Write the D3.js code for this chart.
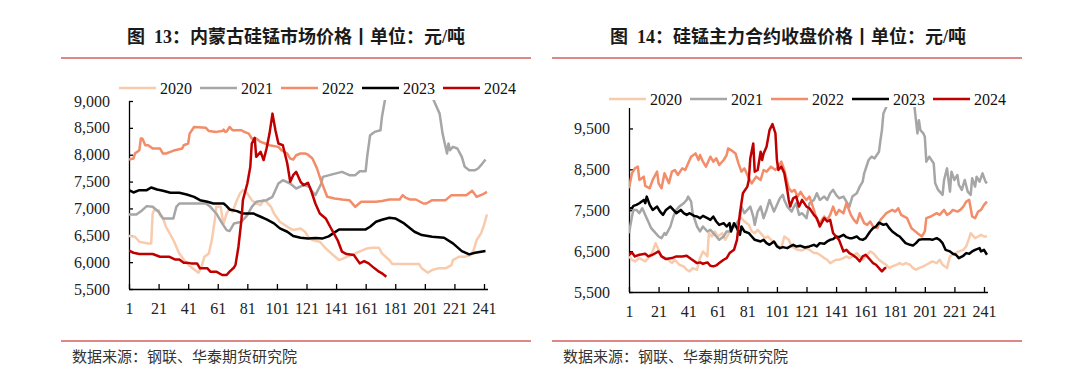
<!DOCTYPE html>
<html>
<head>
<meta charset="utf-8">
<script src="https://cdn.jsdelivr.net/npm/d3@7/dist/d3.min.js"></script>
<style>
  body { margin: 0; background: #fff; }
</style>
</head>
<body>
<svg id="vis" width="1080" height="380"></svg>
<script>

// series labels and colours
var years = ['2020', '2021', '2022', '2023', '2024'];
var colors = ['#F8CBAD', '#A6A6A6', '#F28C69', '#000000', '#C00000'];

// Fig 13: Inner Mongolia SiMn market price, [trading day, yuan/t]
var mkt2020 = [[1,6485],[5,6473],[8,6380],[14,6349],[16,6349],[17,6906],[18,6968],[21,6968],[22,6876],[24,6814],[26,6659],[31,6411],[35,6163],[40,5977],[44,5884],[48,5804],[50,5915],[52,6101],[55,6163],[57,6411],[59,6783],[60,7030],[63,7030],[64,6845],[65,6721],[67,6906],[69,6999],[71,6937],[74,7154],[76,7278],[78,7340],[81,7278],[84,7154],[87,7092],[90,7061],[92,7154],[94,7123],[97,7030],[99,6906],[103,6752],[108,6659],[112,6597],[117,6628],[120,6566],[122,6473],[125,6411],[130,6380],[134,6256],[139,6132],[143,6039],[146,6070],[151,6132],[154,6163],[159,6225],[162,6256],[165,6268],[170,6268],[172,6163],[177,6039],[179,5965],[186,5965],[197,5965],[199,5884],[203,5804],[206,5853],[210,5884],[215,5884],[219,5946],[220,6039],[224,6101],[228,6101],[232,6132],[234,6225],[236,6411],[239,6535],[241,6690],[243,6888]];
var mkt2021 = [[1,6888],[6,6888],[10,6968],[13,7043],[17,7030],[21,6937],[24,6814],[31,6814],[33,7030],[35,7092],[40,7092],[53,7092],[56,7030],[60,6906],[64,6721],[67,6597],[69,6578],[72,6721],[77,6752],[81,6876],[84,7030],[87,7123],[94,7154],[98,7216],[102,7464],[105,7526],[110,7464],[114,7371],[119,7433],[123,7402],[125,7309],[127,7247],[131,7464],[132,7588],[139,7638],[145,7681],[150,7619],[154,7619],[157,7693],[161,7693],[162,7960],[164,8363],[167,8425],[171,8455],[172,8703],[174,9013],[176,10000],[185,11500],[195,12000],[204,10500],[207,9013],[209,8889],[211,8765],[213,8393],[216,8022],[217,8208],[218,8084],[220,8146],[223,8115],[226,7960],[228,7774],[231,7712],[235,7712],[237,7743],[239,7805],[242,7910]];
var mkt2022 = [[1,7910],[4,7929],[5,8022],[8,8084],[9,8301],[10,8301],[12,8177],[14,8177],[17,8115],[22,8115],[24,8022],[26,8022],[29,8053],[32,8084],[37,8115],[38,8177],[41,8208],[42,8393],[45,8517],[53,8500],[55,8440],[60,8425],[64,8440],[65,8468],[66,8425],[67,8430],[69,8517],[71,8455],[77,8455],[79,8425],[82,8393],[84,8301],[87,8301],[90,8239],[93,8208],[96,8177],[102,8146],[104,8084],[108,8022],[110,7929],[112,7910],[114,7990],[117,8022],[120,8022],[122,8000],[125,7929],[128,7750],[131,7500],[135,7216],[140,7185],[145,7166],[150,7154],[154,7030],[158,7123],[168,7123],[172,7140],[177,7166],[184,7166],[186,7247],[188,7200],[191,7166],[195,7166],[200,7092],[202,7092],[206,7154],[215,7154],[219,7247],[229,7247],[233,7328],[236,7216],[240,7260],[243,7309]];
var mkt2023 = [[1,7340],[4,7297],[8,7340],[13,7340],[16,7390],[20,7353],[24,7328],[29,7291],[35,7291],[40,7260],[45,7216],[49,7154],[54,7123],[58,7092],[65,7092],[67,7043],[69,6981],[74,6950],[78,6906],[85,6906],[90,6845],[94,6795],[99,6721],[103,6628],[108,6566],[112,6485],[117,6454],[122,6442],[127,6450],[132,6442],[136,6480],[139,6535],[143,6609],[161,6609],[164,6659],[168,6752],[172,6790],[177,6826],[181,6814],[187,6721],[194,6566],[199,6504],[206,6473],[214,6454],[220,6350],[226,6206],[231,6144],[235,6175],[242,6206]];
var mkt2024 = [[1,6213],[4,6175],[8,6151],[17,6151],[22,6101],[28,6101],[32,6051],[35,6051],[38,5989],[40,5989],[43,5977],[47,5977],[49,5884],[54,5884],[56,5822],[60,5822],[64,5760],[67,5760],[69,5822],[72,5900],[73,5950],[75,6287],[77,6783],[78,7154],[81,7464],[83,7774],[84,8208],[86,8313],[87,7960],[90,8053],[92,7900],[94,8115],[96,8393],[98,8765],[100,8455],[102,8208],[105,8177],[108,7836],[110,7495],[112,7619],[114,7681],[117,7495],[119,7433],[122,7477],[124,7340],[127,7092],[130,6906],[134,6814],[137,6659],[142,6411],[145,6194],[148,6151],[153,6132],[157,5977],[160,6020],[163,5977],[167,5884],[170,5822],[172,5791],[175,5729]];

// Fig 14: SiMn main contract close, [trading day, yuan/t]
var fut2020 = [[1,6370],[3,6289],[5,6248],[8,6329],[12,6248],[15,6370],[17,6492],[19,6695],[21,6532],[23,6370],[26,6329],[30,6207],[32,6289],[35,6167],[38,6126],[40,6045],[42,6004],[44,6085],[47,6045],[49,6329],[51,6492],[54,6370],[55,6939],[57,6858],[59,6980],[61,6858],[64,6939],[66,6776],[68,6898],[70,7061],[73,7102],[75,7264],[77,7305],[79,7224],[82,7142],[84,6980],[86,6939],[88,7020],[91,6898],[93,6817],[95,6858],[97,6776],[100,6695],[102,6614],[104,6573],[106,6858],[109,6776],[111,6614],[113,6573],[115,6532],[118,6516],[121,6573],[123,6532],[126,6451],[128,6451],[130,6411],[133,6329],[135,6289],[137,6207],[139,6248],[141,6289],[143,6289],[146,6329],[148,6370],[150,6329],[152,6370],[155,6451],[157,6370],[159,6289],[161,6370],[164,6492],[166,6451],[168,6370],[170,6289],[173,6207],[175,6167],[177,6085],[179,6126],[182,6167],[184,6207],[186,6167],[188,6207],[191,6167],[193,6085],[195,6045],[197,6085],[200,6126],[202,6167],[204,6207],[206,6248],[209,6207],[211,6289],[213,6167],[216,6085],[218,6370],[220,6411],[222,6451],[224,6492],[227,6532],[229,6614],[231,6817],[232,6939],[235,6817],[237,6858],[239,6898],[241,6858],[243,6858]];
var fut2021 = [[1,6939],[3,7346],[4,7508],[6,7508],[8,7427],[10,7549],[12,7386],[14,7224],[16,7061],[19,6939],[21,6858],[23,6817],[25,6939],[26,6898],[29,7102],[31,7346],[33,7508],[35,7589],[38,7671],[40,7752],[41,7833],[43,7711],[44,7427],[47,7102],[49,6980],[51,7102],[54,6980],[56,7020],[58,6939],[60,6858],[62,6776],[65,6858],[67,6980],[69,6980],[72,7102],[74,7183],[76,7305],[77,7589],[79,7427],[81,7508],[83,7589],[85,7346],[86,7142],[88,7467],[90,7589],[92,7305],[94,7508],[96,7752],[99,7467],[101,7630],[103,7793],[105,7874],[106,7752],[108,7589],[111,7467],[112,7549],[114,7671],[116,7386],[118,7427],[121,7305],[123,7671],[126,7752],[128,7915],[130,7752],[133,7833],[135,7752],[137,7915],[139,7996],[141,7874],[143,7793],[146,7833],[148,7711],[150,7589],[152,7833],[155,7915],[157,8077],[159,8199],[160,8402],[163,8728],[165,8809],[167,8768],[170,8931],[171,9215],[172,9459],[173,9866],[175,10028],[178,10800],[185,12000],[190,11000],[194,10028],[196,9378],[197,9703],[198,9459],[200,9378],[201,9297],[202,8687],[204,8809],[207,8646],[208,8158],[210,7996],[213,7874],[214,8240],[216,8524],[218,7955],[219,8443],[221,8240],[223,8362],[224,8118],[226,7996],[228,8240],[230,7955],[232,7874],[233,8280],[235,8077],[236,8321],[238,8199],[240,8402],[242,8199],[243,8158]];
var fut2022 = [[1,8037],[3,8402],[5,8524],[7,8565],[8,8240],[11,8321],[12,8093],[15,8037],[17,8240],[20,8443],[21,8158],[23,8037],[25,8402],[28,8158],[30,8443],[32,8484],[34,8362],[37,8524],[39,8484],[41,8646],[43,8809],[46,8890],[48,8728],[49,8850],[51,8687],[53,8565],[56,8809],[58,8687],[60,8768],[62,8606],[65,8728],[67,8850],[68,9012],[70,8972],[73,8890],[75,8646],[77,8443],[79,8524],[82,8280],[84,8158],[87,8321],[90,8240],[92,8484],[94,8443],[97,8565],[100,8484],[102,8565],[104,8687],[106,8484],[109,8037],[111,7955],[113,7996],[115,7833],[117,7950],[119,7833],[121,7752],[123,7833],[126,7508],[128,7264],[130,7183],[133,7346],[135,7264],[137,7386],[139,7589],[141,7386],[143,7508],[146,7427],[148,7671],[151,7386],[153,7264],[155,7183],[157,7427],[160,7183],[162,7142],[164,7224],[166,7102],[169,7061],[171,7264],[173,7346],[175,7427],[179,7508],[181,7467],[183,7549],[185,7386],[189,7305],[192,7061],[196,6939],[199,6858],[201,6980],[202,7305],[205,7346],[207,7386],[209,7427],[211,7386],[214,7508],[216,7386],[218,7427],[220,7508],[223,7467],[225,7508],[227,7589],[229,7711],[231,7752],[233,7346],[235,7305],[237,7467],[239,7508],[241,7630],[243,7711]];
var fut2023 = [[1,7549],[3,7549],[4,7606],[6,7630],[8,7671],[11,7752],[12,7671],[13,7833],[15,7630],[17,7508],[20,7589],[22,7467],[24,7386],[26,7508],[29,7589],[31,7508],[33,7427],[36,7508],[38,7427],[40,7386],[42,7427],[45,7362],[47,7346],[49,7305],[51,7362],[54,7305],[56,7264],[58,7346],[60,7224],[62,7142],[65,7183],[67,7102],[69,7183],[70,6980],[72,7183],[74,7061],[76,6898],[77,7102],[79,6980],[82,6939],[84,6858],[86,6776],[90,6736],[92,6776],[94,6695],[96,6654],[99,6736],[101,6614],[103,6573],[105,6598],[108,6573],[110,6614],[112,6654],[114,6614],[117,6630],[120,6589],[123,6614],[126,6654],[128,6614],[130,6695],[133,6679],[135,6736],[137,6776],[139,6793],[141,6858],[143,6841],[146,6898],[148,6841],[150,6817],[152,6817],[155,6858],[157,6793],[159,6776],[161,6817],[164,6980],[166,7061],[168,7102],[170,7199],[173,7142],[175,7167],[177,7061],[179,6980],[182,6898],[184,6858],[186,6776],[188,6695],[191,6654],[193,6638],[195,6695],[197,6776],[200,6793],[202,6793],[204,6793],[206,6776],[209,6817],[211,6776],[213,6695],[215,6532],[218,6492],[220,6435],[222,6411],[224,6329],[227,6386],[229,6451],[231,6435],[233,6492],[235,6532],[238,6573],[239,6492],[241,6532],[243,6411]];
var fut2024 = [[1,6411],[3,6467],[5,6370],[8,6411],[12,6435],[14,6370],[17,6411],[21,6492],[23,6370],[26,6305],[30,6329],[33,6370],[37,6370],[40,6386],[43,6305],[47,6207],[49,6224],[51,6191],[54,6224],[56,6142],[58,6126],[60,6150],[62,6207],[65,6289],[67,6329],[69,6451],[72,6532],[74,6776],[76,7427],[78,7915],[81,8077],[82,8240],[83,8768],[85,9134],[86,8443],[88,8484],[90,8931],[91,8728],[92,8890],[94,9053],[96,9459],[98,9606],[100,9378],[101,8728],[102,8484],[104,8565],[106,8402],[108,7996],[109,7752],[110,7589],[112,7793],[114,7833],[116,7589],[118,7752],[121,7589],[123,7549],[126,7386],[128,7305],[130,7102],[133,7305],[135,7224],[137,7264],[139,6939],[141,6858],[143,6776],[146,6492],[148,6532],[150,6451],[152,6411],[155,6329],[157,6248],[159,6370],[161,6411],[164,6289],[166,6207],[168,6167],[170,6085],[172,6004],[174,6085],[175,6085]];

// axis tick values
var xTicks = d3.range(1, 242, 20);
var mktYTicks = d3.range(5500, 9001, 500);
var futYTicks = d3.range(5500, 9501, 1000);

var source = '数据来源：钢联、华泰期货研究院';

var panels = [
  { title: '图\u00a0\u00a013：内蒙古硅锰市场价格丨单位：元/吨', series: [mkt2020, mkt2021, mkt2022, mkt2023, mkt2024],
    yDomain: [5500, 9000], yTicks: mktYTicks,
    left: 61, right: 531, titleX: 296,
    xRange: [129, 484], xEnd: 488, yRange: [289, 101], legendX: 119, legendY: 88 },
  { title: '图\u00a0\u00a014：硅锰主力合约收盘价格丨单位：元/吨', series: [fut2020, fut2021, fut2022, fut2023, fut2024],
    yDomain: [5500, 10000], yTicks: futYTicks,
    left: 552, right: 1022, titleX: 788,
    xRange: [629, 984], xEnd: 988, yRange: [292, 108], legendX: 609, legendY: 99 }
];

var serif = "'Times New Roman','Liberation Serif','Noto Sans CJK SC',serif";
var svg = d3.select('#vis');

panels.forEach(function (p, pi) {
  var g = svg.append('g');

  // title + red rules
  g.append('text')
    .attr('x', p.titleX).attr('y', 43)
    .attr('text-anchor', 'middle')
    .style('font-family', serif)
    .style('font-weight', 'bold')
    .style('font-size', '18px')
    .style('fill', '#1a1a1a')
    .text(p.title);

  [58, 341].forEach(function (yy) {
    g.append('line')
      .attr('x1', p.left).attr('x2', p.right)
      .attr('y1', yy).attr('y2', yy)
      .style('stroke', '#D2615E')
      .style('stroke-width', 1.6);
  });

  g.append('text')
    .attr('x', p.left + 11).attr('y', 362)
    .style('font-family', "'Noto Sans CJK SC',sans-serif")
    .style('font-size', '15px')
    .style('fill', '#333')
    .text(source);

  // scales
  var x = d3.scaleLinear().domain([1, 241]).range(p.xRange);
  var y = d3.scaleLinear().domain(p.yDomain).range(p.yRange);

  // y axis, ticks pointing inward
  var yAxis = g.append('g')
    .attr('transform', 'translate(' + p.xRange[0] + ',0)')
    .call(d3.axisLeft(y).tickValues(p.yTicks).tickSizeInner(-4).tickSizeOuter(0)
      .tickPadding(19).tickFormat(d3.format(',')));
  yAxis.select('.domain').attr('d', 'M0.5,' + p.yRange[0] + 'V' + p.yRange[1]);

  // x axis
  var xAxis = g.append('g')
    .attr('transform', 'translate(0,' + p.yRange[0] + ')')
    .call(d3.axisBottom(x).tickValues(xTicks).tickSizeInner(-5).tickSizeOuter(0)
      .tickPadding(14).tickFormat(d3.format('d')));
  xAxis.select('.domain').attr('d', 'M' + p.xRange[0] + ',0.5H' + p.xEnd);

  [yAxis, xAxis].forEach(function (a) {
    a.selectAll('.domain, .tick line').style('stroke', '#000').style('stroke-width', 1.3);
    a.selectAll('text')
      .style('font-family', serif)
      .style('font-size', '16px')
      .style('fill', '#222');
  });

  // clip so the 2021 spike leaves the frame like in the source
  g.append('clipPath').attr('id', 'clip' + pi)
    .append('rect')
    .attr('x', p.xRange[0]).attr('y', p.yRange[1] - 1)
    .attr('width', p.xEnd - p.xRange[0] + 4)
    .attr('height', p.yRange[0] - p.yRange[1] + 1);

  var line = d3.line()
    .x(function (d) { return x(d[0]); })
    .y(function (d) { return y(d[1]); });

  g.append('g')
    .attr('clip-path', 'url(#clip' + pi + ')')
    .selectAll('path')
    .data(p.series)
    .enter().append('path')
    .attr('d', line)
    .style('fill', 'none')
    .style('stroke', function (d, i) { return colors[i]; })
    .style('stroke-width', 2.5)
    .style('stroke-linejoin', 'round');

  // legend
  var leg = g.append('g')
    .selectAll('g')
    .data(years)
    .enter().append('g')
    .attr('transform', function (d, i) {
      return 'translate(' + (p.legendX + i * 81) + ',' + p.legendY + ')';
    });

  leg.append('line')
    .attr('x1', 0).attr('x2', 37)
    .style('stroke', function (d, i) { return colors[i]; })
    .style('stroke-width', 2.6);

  leg.append('text')
    .attr('x', 41).attr('y', 5.5)
    .style('font-family', serif)
    .style('font-size', '16px')
    .style('fill', '#111')
    .text(function (d) { return d; });
});

</script>
</body>
</html>
